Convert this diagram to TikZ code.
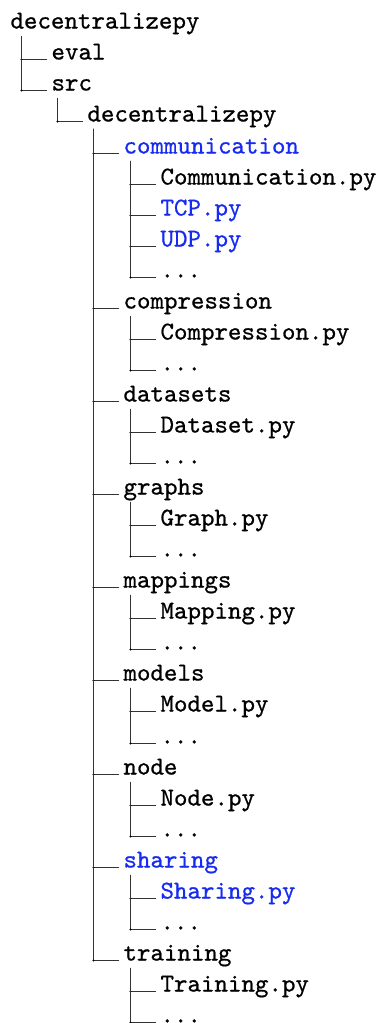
\documentclass[tikz,border=0pt]{standalone}
\usepackage{fontspec}
\newfontfamily\dirtt{lmmono10-regular}[Extension=.otf, FakeBold=0.7]
\definecolor{dirblue}{RGB}{22,42,240}
\begin{document}
\begin{tikzpicture}[x=1pt,y=-1pt,
  entry/.style={anchor=base west, scale=2.571, inner xsep=1.75pt, inner ysep=0pt, outer sep=0pt,
                font=\fontsize{10}{12}\selectfont\dirtt},
  hl/.style={text=dirblue},
  branch/.style={line width=1pt, draw=black!80},
  knot/.style={fill=black}]
\useasboundingbox (0,0) rectangle (380,1023);

% level 1
\node[entry] (root) at (6,28.5) {decentralizepy};
% level 2
\node[entry] (eval) at (47,59.5) {eval};
\node[entry] (src) at (47,90.5) {src};
% level 3
\node[entry] (dpy) at (83,121.5) {decentralizepy};
% level 4
\node[entry,hl] (comm) at (119,153.5) {communication};
\node[entry] (compr) at (119,308.5) {compression};
\node[entry] (data) at (119,401.5) {datasets};
\node[entry] (graphs) at (119,494.5) {graphs};
\node[entry] (map) at (119,587.5) {mappings};
\node[entry] (models) at (119,680.5) {models};
\node[entry] (nd) at (119,774.5) {node};
\node[entry,hl] (shar) at (119,867.5) {sharing};
\node[entry] (train) at (119,960.5) {training};
% level 5
\node[entry] (commpy) at (156,184.5) {Communication.py};
\node[entry,hl] (tcp) at (156,215.5) {TCP.py};
\node[entry,hl] (udp) at (156,246.5) {UDP.py};
\node[entry] (commdots) at (156,277.5) {...};
\node[entry] (comprpy) at (156,339.5) {Compression.py};
\node[entry] (comprdots) at (156,370.5) {...};
\node[entry] (datapy) at (156,432.5) {Dataset.py};
\node[entry] (datadots) at (156,463.5) {...};
\node[entry] (graphpy) at (156,525.5) {Graph.py};
\node[entry] (graphdots) at (156,556.5) {...};
\node[entry] (mappy) at (156,618.5) {Mapping.py};
\node[entry] (mapdots) at (156,649.5) {...};
\node[entry] (modelpy) at (156,711.5) {Model.py};
\node[entry] (modeldots) at (156,743.5) {...};
\node[entry] (ndpy) at (156,805.5) {Node.py};
\node[entry] (nddots) at (156,836.5) {...};
\node[entry,hl] (sharpy) at (156,898.5) {Sharing.py};
\node[entry] (shardots) at (156,929.5) {...};
\node[entry] (trainpy) at (156,991.5) {Training.py};
\node[entry] (traindots) at (156,1022.5) {...};

% tops of the vertical rules
\coordinate (vroot) at (21.5,35.5);
\coordinate (vsrc) at (57.5,97.5);
\coordinate (vdpy) at (93.5,128.5);
\coordinate (vcomm) at (130.5,160.5);
\coordinate (vcompr) at (130.5,315.5);
\coordinate (vdata) at (130.5,408.5);
\coordinate (vgraphs) at (130.5,501.5);
\coordinate (vmap) at (130.5,594.5);
\coordinate (vmodels) at (130.5,687.5);
\coordinate (vnd) at (130.5,781.5);
\coordinate (vshar) at (130.5,874.5);
\coordinate (vtrain) at (130.5,967.5);

\foreach \p/\cs in {vroot/{eval,src}, vsrc/{dpy},
  vdpy/{comm,compr,data,graphs,map,models,nd,shar,train},
  vcomm/{commpy,tcp,udp,commdots}, vcompr/{comprpy,comprdots},
  vdata/{datapy,datadots}, vgraphs/{graphpy,graphdots},
  vmap/{mappy,mapdots}, vmodels/{modelpy,modeldots},
  vnd/{ndpy,nddots}, vshar/{sharpy,shardots}, vtrain/{trainpy,traindots}} {
  \foreach \c in \cs {
    \draw[branch] (\p) |- (\c.base west);
    \fill[knot] (\p |- \c.base west) circle (1.2pt);
  }
}
\end{tikzpicture}
\end{document}
